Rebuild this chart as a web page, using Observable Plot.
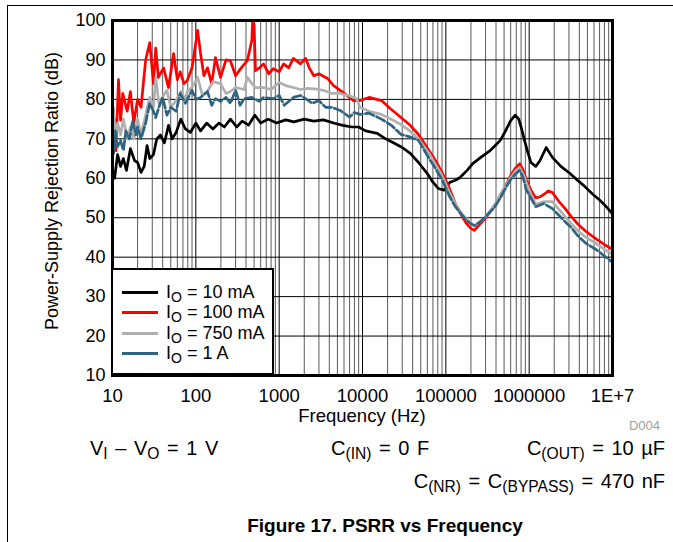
<!DOCTYPE html>
<html><head><meta charset="utf-8">
<script src="https://cdn.jsdelivr.net/npm/d3@7"></script>
<script src="https://cdn.jsdelivr.net/npm/@observablehq/plot@0.6"></script>
<style>
body{margin:0;background:#fff;}
#wrap{position:relative;width:673px;height:542px;font-family:"Liberation Sans",Arial,sans-serif;overflow:hidden;background:#fff;}
#wrap svg{position:absolute;left:0;top:0;}
.t{position:absolute;white-space:nowrap;color:#000;line-height:1;}
.t sub{font-size:78%;vertical-align:-0.28em;line-height:0;}
.ln{position:absolute;background:#000;}
#legend{position:absolute;left:111px;top:268px;width:159px;height:103px;border:2.5px solid #000;background:#fff;}
.row{position:absolute;left:0;height:20px;}
.sw{position:absolute;left:9px;width:36px;height:3px;top:9px;}
.lt{position:absolute;left:53px;top:0;font-size:18px;white-space:nowrap;line-height:20px;}
.lt sub{font-size:78%;vertical-align:-0.28em;line-height:0;}
</style></head>
<body>
<div id="wrap"></div>
<script>
// Frequency (Hz) / PSRR (dB) pairs
const io10mA = [[10,62],[10.6,60],[11.5,66],[12.5,63],[13.5,65],[14.7,62],[16.4,67.5],[18.4,64.5],[20,64],[22,61.5],[24,63],[26,68.3],[28,65],[31,66],[34,70],[37.6,71],[42,69],[47,73.4],[52,70],[58,71.6],[66,75],[75,72.5],[86,71.6],[100,74],[114,72],[135,74],[160,72.5],[190,74],[220,73],[260,75],[310,73],[360,74.5],[430,73.5],[510,76],[600,74],[740,75],[930,74],[1200,74.8],[1500,74.3],[2000,75],[2600,74.5],[3400,74.8],[4500,74],[5800,73.4],[7500,73],[9000,73],[10900,72],[15000,71.4],[19000,70],[23500,69],[30000,67.8],[37500,66.3],[47000,64],[60000,61.2],[70000,59],[81500,57.4],[95000,57],[112000,59],[130000,59.5],[148000,60.2],[180000,62],[210000,63.7],[270000,65.5],[340000,67],[400000,68.5],[450000,69.6],[520000,72],[600000,74.6],[680000,76],[750000,75],[800000,73],[870000,70],[950000,67],[1050000,64],[1200000,63],[1350000,64.5],[1600000,67.8],[1900000,65.3],[2400000,63],[3100000,61.2],[3800000,59.5],[4500000,58.2],[5750000,56],[7000000,54.5],[8250000,53],[10000000,51]];
const io100mA = [[10,72],[10.5,75],[11,67],[11.8,85],[12.5,74.7],[13.3,81.5],[15,77],[16.4,82],[18,74],[20,80],[22,78],[25,90],[28,94.4],[31,84],[33,93],[35.5,85.6],[41,88],[47,83],[54,91.6],[60,85],[65,87],[72,84],[79,84.8],[90,88],[105,97.5],[114,91.6],[125,86],[138,88],[155,84],[172,90.6],[198,85.6],[230,90],[260,89.8],[300,86],[345,87.8],[415,89.8],[470,95],[480,100],[500,99],[520,87.3],[580,88],[650,89],[750,86.5],[850,87.8],[1000,87],[1130,89],[1300,88],[1480,90.4],[1800,89],[2070,90.4],[2300,88],[2600,86],[3000,86.5],[3800,85.3],[4500,83.5],[5400,82.3],[6500,81],[7800,79.7],[9300,79.7],[12000,80.5],[16900,79.7],[22000,77.5],[29000,75.4],[37000,73.5],[47000,71.1],[63000,67],[75000,64.5],[90000,61.5],[110000,57.5],[130000,53.6],[155000,50.5],[177000,48.5],[200000,47.3],[220000,46.8],[260000,48.5],[310000,50.3],[380000,53],[450000,55.4],[520000,58],[600000,60.7],[680000,62.5],[770000,63.7],[850000,62],[920000,59.7],[1050000,57],[1200000,55],[1350000,55.3],[1500000,55.9],[1700000,56.8],[1900000,56.4],[2300000,54],[2700000,52.3],[3200000,50.3],[3800000,48.5],[4800000,46.5],[6300000,44.7],[8000000,43.2],[10000000,42]];
const io750mA = [[10,72],[10.3,78],[10.8,70],[11.5,74],[12.5,71],[13.5,75],[15,70],[16.5,73],[18,70],[20,75],[22,71],[25,76],[28,80.5],[31,78],[33,85.6],[36,79],[41,81],[45,82.3],[50,78],[58,79.7],[66,82],[75,80],[79,82],[90,83],[105,85.6],[120,81],[138,82],[160,84.5],[198,84],[230,81.5],[260,82],[300,83],[380,82.5],[415,85.6],[470,84],[520,83],[650,83],[800,82.5],[1000,84.3],[1200,83.5],[1480,83],[1800,82.5],[2200,82.8],[2800,82.6],[3400,82.3],[4300,81.5],[5400,81.5],[6800,81],[8500,80.2],[9300,78],[12000,77],[16900,76.2],[22000,75],[29000,73.6],[37000,72],[47000,70],[63000,66.3],[75000,63.5],[90000,60.7],[110000,56.5],[130000,53.6],[155000,51],[177000,49.8],[200000,48.5],[220000,48],[260000,49],[310000,50.6],[380000,53],[450000,55.9],[520000,58],[600000,60.2],[680000,61.8],[770000,62.7],[850000,61],[920000,59],[1050000,56],[1200000,53.4],[1350000,53.8],[1500000,54.1],[1900000,54.1],[2300000,52],[2700000,50.3],[3200000,48.5],[3800000,46.8],[4800000,45],[6300000,43.5],[8000000,42],[10000000,40.7]];
const io1A = [[10,70],[10.3,66.3],[10.8,72],[11.5,68],[12.5,69.6],[13.5,67],[14.5,72],[16,70],[17.5,74.6],[19,71],[20,73],[22,70],[25,74],[28,79],[31,77],[33,75.4],[36,78],[40,80.5],[45,76],[50,78],[58,77],[65,81.5],[75,79],[90,82.3],[100,80],[114,80.5],[138,82],[155,78.5],[172,80.2],[198,79.5],[230,80.5],[260,79],[300,82.3],[340,78.5],[380,80.2],[470,80.5],[580,79.5],[650,80.5],[850,80.2],[1000,81],[1150,78.5],[1480,80.5],[1800,81],[2070,80.2],[2500,79],[3000,79.7],[3600,78],[4300,78],[5400,77.2],[7000,75.5],[8000,76.7],[9300,76.2],[12000,76.5],[16900,75],[22000,73.5],[29000,71.1],[37000,70.5],[47000,69.6],[63000,65],[75000,62.5],[90000,59.7],[110000,55.5],[130000,52.8],[155000,50.8],[177000,49.3],[200000,48.5],[220000,48],[260000,49],[310000,50.6],[380000,52.5],[450000,55],[520000,57.5],[600000,59.7],[680000,61],[770000,62],[850000,60],[920000,57.2],[1050000,55],[1200000,52.8],[1350000,53.2],[1500000,53.6],[1900000,52.3],[2300000,50.5],[2700000,49],[3200000,47.5],[3800000,45.5],[4800000,43.5],[6300000,42],[8000000,40.3],[10000000,38.7]];

const seriesNames = ["10 mA","100 mA","750 mA","1 A"];
const seriesColors = ["#000000","#ff0000","#b0b0b0","#2f6480"];
const xTicks = [10,100,1000,10000,100000,1000000,10000000];
const xTickLabels = ["10","100","1000","10000","100000","1000000","1E+7"];
const yTicks = [10,20,30,40,50,60,70,80,90,100];

const minorTicks = [];
for (const d of xTicks.slice(0,-1)) for (let k = 2; k <= 9; k++) minorTicks.push(d*k);
const xLabelOf = d => { const i = xTicks.findIndex(t => Math.abs(t - d) / t < 1e-6); return i >= 0 ? xTickLabels[i] : ""; };

const chart = Plot.plot({
  width: 673, height: 542,
  marginLeft: 112, marginRight: 61, marginTop: 20, marginBottom: 167,
  style: {fontFamily: '"Liberation Sans", Arial, sans-serif', fontSize: "18px", color: "#000", background: "transparent"},
  x: {type: "log", domain: [10, 1e7], axis: null},
  y: {domain: [10, 100], axis: null},
  marks: [
    Plot.ruleX(minorTicks, {stroke: "#5a5a5a", strokeWidth: 1}),
    Plot.ruleX(xTicks, {stroke: "#000", strokeWidth: 1}),
    Plot.ruleY(yTicks, {stroke: "#000", strokeWidth: 1}),
    Plot.line(io10mA, {x: d => d[0], y: d => d[1], stroke: seriesColors[0], strokeWidth: 2.7}),
    Plot.line(io100mA, {x: d => d[0], y: d => d[1], stroke: seriesColors[1], strokeWidth: 2.7}),
    Plot.line(io750mA, {x: d => d[0], y: d => d[1], stroke: seriesColors[2], strokeWidth: 2.7}),
    Plot.line(io1A, {x: d => d[0], y: d => d[1], stroke: seriesColors[3], strokeWidth: 2.7, strokeDasharray: "9,3"}),
    Plot.frame({stroke: "#000", strokeWidth: 3}),
    Plot.text(xTicks, {x: d => d, frameAnchor: "bottom", dy: 26, text: xLabelOf, fill: "#000", fontSize: 18.5}),
    Plot.text(yTicks, {y: d => d, frameAnchor: "left", dx: -7, textAnchor: "end", text: d => String(d), fill: "#000", fontSize: 18})
  ]
});
const wrap = document.getElementById("wrap");
wrap.appendChild(chart);

function addText(html, opts) {
  const el = document.createElement("div");
  el.className = "t";
  el.innerHTML = html;
  Object.assign(el.style, opts);
  wrap.appendChild(el);
  return el;
}
// page border lines
const borderTop = document.createElement("div"); borderTop.className = "ln";
Object.assign(borderTop.style, {left: "7px", top: "5px", width: "666px", height: "1px"}); wrap.appendChild(borderTop);
const borderLeft = document.createElement("div"); borderLeft.className = "ln";
Object.assign(borderLeft.style, {left: "7px", top: "5px", width: "1px", height: "537px"}); wrap.appendChild(borderLeft);

// axis labels
addText("Frequency (Hz)", {left: "362px", top: "407px", fontSize: "18.5px", transform: "translateX(-50%)"});
addText("Power-Supply Rejection Ratio (dB)", {left: "52px", top: "191px", fontSize: "18px", transform: "translate(-50%,-50%) rotate(-90deg)"});
addText("D004", {right: "13px", top: "419px", fontSize: "13px", color: "#a0a0a0"});

// conditions
const cond = {fontSize: "20px", wordSpacing: "2px"};
addText("V<sub>I</sub> – V<sub>O</sub> = 1 V", {...cond, left: "90px", top: "438px"});
addText("C<sub>(IN)</sub> = 0 F", {...cond, left: "331px", top: "438px"});
addText("C<sub>(OUT)</sub> = 10 µF", {...cond, right: "8px", top: "438px"});
addText("C<sub>(NR)</sub> = C<sub>(BYPASS)</sub> = 470 nF", {...cond, right: "8px", top: "471px"});
addText("Figure 17. PSRR vs Frequency", {left: "385px", top: "516px", fontSize: "19px", fontWeight: "bold", transform: "translateX(-50%)"});

// legend
const lg = document.createElement("div"); lg.id = "legend"; wrap.appendChild(lg);
seriesNames.forEach((name, i) => {
  const row = document.createElement("div"); row.className = "row";
  row.style.top = (12 + i * 20.3) + "px"; row.style.width = "159px";
  const sw = document.createElement("div"); sw.className = "sw"; sw.style.background = seriesColors[i];
  const lt = document.createElement("div"); lt.className = "lt"; lt.innerHTML = "I<sub>O</sub> = " + name;
  row.appendChild(sw); row.appendChild(lt); lg.appendChild(row);
});
</script>
</body></html>
